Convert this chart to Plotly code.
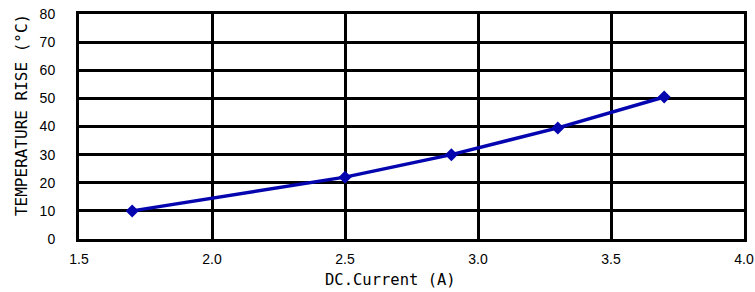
import plotly.graph_objects as go

current = [1.7, 2.5, 2.9, 3.3, 3.7]
temp_rise = [10, 22, 30, 39.5, 50.5]
x_ticks = [1.5, 2.0, 2.5, 3.0, 3.5, 4.0]
x_ticktext = ["1.5", "2.0", "2.5", "3.0", "3.5", "4.0"]
y_ticks = [0, 10, 20, 30, 40, 50, 60, 70, 80]
x_title = "DC.Current (A)"
y_title = "TEMPERATURE RISE (°C)"

fig = go.Figure()
fig.add_trace(go.Scatter(
    x=current, y=temp_rise, mode="lines+markers",
    line=dict(color="#0505b0", width=3.5),
    marker=dict(symbol="diamond", size=10, color="#0505b0"),
    showlegend=False,
))

fig.update_layout(
    width=755, height=292,
    margin=dict(l=79, r=11, t=14, b=53, autoexpand=False),
    paper_bgcolor="white", plot_bgcolor="white",
    xaxis=dict(
        range=[1.5, 4.0], tickvals=x_ticks, ticktext=x_ticktext,
        showgrid=True, gridcolor="black", gridwidth=2.5,
        showline=True, linecolor="black", linewidth=3, mirror=True,
        zeroline=False, ticks="outside", ticklen=5, tickcolor="rgba(0,0,0,0)",
        automargin=False, ticklabeloverflow="allow",
        tickfont=dict(family="Liberation Sans, Arial", size=14, color="black"),
    ),
    yaxis=dict(
        range=[0, 80], tickvals=y_ticks,
        showgrid=True, gridcolor="black", gridwidth=2.5,
        showline=True, linecolor="black", linewidth=3, mirror=True,
        zeroline=False, ticks="outside", ticklen=18, tickcolor="rgba(0,0,0,0)",
        automargin=False, ticklabeloverflow="allow",
        tickfont=dict(family="Liberation Sans, Arial", size=14, color="black"),
    ),
    annotations=[
        dict(text=x_title, xref="paper", yref="paper", x=0.469, y=-0.182,
             xanchor="center", yanchor="middle", showarrow=False,
             font=dict(family="DejaVu Sans Mono", size=15.5, color="black")),
        dict(text=y_title, xref="paper", yref="paper", x=-0.0872, y=0.551,
             xanchor="center", yanchor="middle", showarrow=False, textangle=-90,
             font=dict(family="DejaVu Sans Mono", size=16, color="black")),
    ],
)

fig.write_html(
    "out.html",
    config={"displayModeBar": False},
    post_script="document.body.style.margin='0';document.body.style.overflow='hidden';",
)
